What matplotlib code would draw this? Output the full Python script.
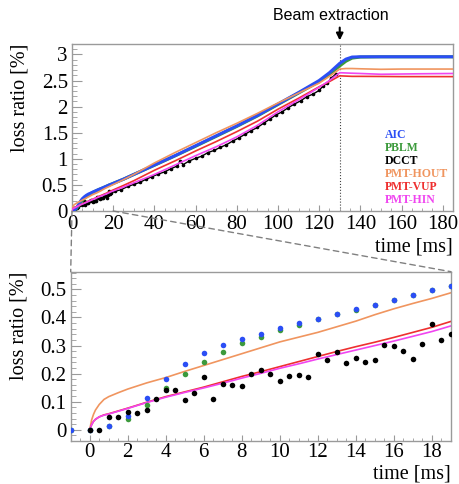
import numpy as np
import matplotlib
matplotlib.use('Agg')
import matplotlib.pyplot as plt
from matplotlib.patches import ConnectionPatch
from matplotlib.ticker import MultipleLocator, FuncFormatter

plt.rcParams['font.family'] = ['Liberation Serif', 'DejaVu Serif']

# ---------------- data: zoomed panel (0-19 ms) ----------------
t_pts_zoom = [-1, 0, 1, 2, 3, 4, 5, 6, 7, 8, 9, 10, 11, 12, 13, 14, 15, 16, 17, 18, 19]
aic_zoom = [0, 0, 0.014, 0.05, 0.113, 0.181, 0.235, 0.272, 0.302, 0.325, 0.342, 0.361,
            0.379, 0.396, 0.413, 0.429, 0.446, 0.463, 0.480, 0.498, 0.513]
pblm_zoom = [0, 0, 0.014, 0.039, 0.089, 0.148, 0.199, 0.243, 0.278, 0.308, 0.332, 0.355,
             0.373, 0.393, 0.412, 0.428, 0.444, 0.462, 0.479, 0.498, 0.513]
t_dcct_zoom = [0, 0.5, 1, 1.5, 2, 2.5, 3, 3.5, 4, 4.5, 5, 5.5, 6, 6.5, 7, 7.5, 8, 8.5, 9, 9.5,
               10, 10.5, 11, 11.5, 12, 12.5, 13, 13.5, 14, 14.5, 15, 15.5, 16, 16.5, 17, 17.5,
               18, 18.5, 19]
dcct_zoom = [0, 0, 0.047, 0.047, 0.062, 0.059, 0.07, 0.111, 0.142, 0.14, 0.107, 0.132, 0.188,
             0.109, 0.164, 0.159, 0.156, 0.199, 0.213, 0.197, 0.173, 0.192, 0.194, 0.188,
             0.269, 0.248, 0.277, 0.237, 0.257, 0.242, 0.25, 0.302, 0.297, 0.282, 0.253,
             0.306, 0.377, 0.318, 0.341]
t_line_zoom = [0, 0.1, 0.2, 0.3, 0.5, 0.75, 1, 1.5, 2, 3, 4, 5, 6, 7, 8, 9, 10, 11, 12, 13,
               14, 15, 16, 17, 18, 19]
hout_zoom = [0, 0.035, 0.055, 0.07, 0.09, 0.108, 0.118, 0.132, 0.145, 0.167, 0.186, 0.208,
             0.229, 0.25, 0.271, 0.292, 0.313, 0.33, 0.347, 0.367, 0.387, 0.41, 0.431, 0.45,
             0.468, 0.488]
vup_zoom = [0, 0.018, 0.03, 0.037, 0.046, 0.053, 0.057, 0.067, 0.077, 0.098, 0.118, 0.135,
            0.152, 0.171, 0.19, 0.207, 0.225, 0.243, 0.261, 0.279, 0.296, 0.312, 0.329, 0.347,
            0.365, 0.386]
hin_zoom = [0, 0.018, 0.03, 0.037, 0.046, 0.052, 0.056, 0.066, 0.076, 0.097, 0.116, 0.133,
            0.149, 0.166, 0.184, 0.201, 0.219, 0.235, 0.252, 0.268, 0.284, 0.3, 0.316, 0.333,
            0.35, 0.37]

# ---------------- data: full panel (after 19 ms) ----------------
t_top = [25, 30, 40, 50, 60, 70, 80, 90, 100, 110, 120, 125, 130, 133, 136, 140, 150, 160, 170, 185]
aic_top = [0.61, 0.70, 0.88, 1.06, 1.25, 1.44, 1.63, 1.83, 2.05, 2.27, 2.50, 2.65, 2.83, 2.91,
           2.95, 2.955, 2.955, 2.955, 2.955, 2.955]
pblm_top = [0.61, 0.70, 0.875, 1.055, 1.24, 1.43, 1.62, 1.82, 2.04, 2.26, 2.48, 2.62, 2.78,
            2.87, 2.93, 2.95, 2.955, 2.955, 2.955, 2.955]
hout_top = [0.60, 0.70, 0.92, 1.12, 1.31, 1.50, 1.68, 1.87, 2.07, 2.26, 2.45, 2.58, 2.72, 2.73,
            2.73, 2.725, 2.715, 2.72, 2.72, 2.72]
vup_top = [0.49, 0.58, 0.78, 0.96, 1.15, 1.33, 1.52, 1.72, 1.95, 2.16, 2.38, 2.48, 2.59, 2.585,
           2.58, 2.58, 2.578, 2.575, 2.575, 2.575]
hin_top = [0.46, 0.54, 0.70, 0.88, 1.06, 1.23, 1.42, 1.64, 1.90, 2.13, 2.37, 2.50, 2.65, 2.645,
           2.64, 2.635, 2.62, 2.625, 2.63, 2.635]
t_dcct_top = [21, 24, 27, 30, 33, 36, 39, 42, 45, 48, 51, 52.5, 54, 57, 60, 63, 66, 69, 72, 75,
              78, 81, 84, 87, 90, 93, 96, 99, 102, 105, 108, 111, 114, 117, 120, 122, 124, 126, 128]
dcct_top = [0.38, 0.41, 0.47, 0.51, 0.55, 0.61, 0.66, 0.71, 0.75, 0.81, 0.86, 0.95, 0.89, 0.96,
            1.01, 1.05, 1.12, 1.16, 1.22, 1.27, 1.34, 1.40, 1.47, 1.54, 1.60, 1.68, 1.76, 1.84,
            1.90, 1.98, 2.05, 2.11, 2.19, 2.24, 2.31, 2.40, 2.45, 2.55, 2.62]

names = ['AIC', 'PBLM', 'DCCT', 'PMT-HOUT', 'PMT-VUP', 'PMT-HIN']
colors = ['#2b4ef5', '#3c9a3c', '#000000', '#f0955f', '#ee3030', '#f045f0']
C_AIC, C_PBLM, C_DCCT, C_HOUT, C_VUP, C_HIN = colors

W, H = 459, 484
fig = plt.figure(figsize=(W / 100, H / 100), dpi=100)
ax1 = fig.add_axes([72 / W, 1 - 211 / H, 381 / W, 167 / H])
ax2 = fig.add_axes([70.7 / W, 1 - 441 / H, 380.3 / W, 169.3 / H])

fmt = FuncFormatter(lambda v, p: f'{v:g}')
frame_c = '#9a9a9a'
for ax in (ax1, ax2):
    for s in ax.spines.values():
        s.set_color(frame_c)
        s.set_linewidth(1.0)
    ax.tick_params(which='both', direction='in', color=frame_c, labelsize=15,
                   top=False, right=False)
    ax.xaxis.set_major_formatter(fmt)
    ax.yaxis.set_major_formatter(fmt)


def comb(a, b):
    return np.concatenate([np.asarray(a, float), np.asarray(b, float)])


# ---------- top panel ----------
ax1.plot(comb(t_dcct_zoom, t_dcct_top), comb(dcct_zoom, dcct_top), color=C_DCCT, lw=1.0,
         marker='o', ms=1.6, zorder=2)
tz = np.asarray(t_pts_zoom)[1:]
ax1.plot(comb(tz, t_top), comb(pblm_zoom[1:], pblm_top), color=C_PBLM, lw=2.2, zorder=3)
ax1.plot(comb(tz, t_top), comb(aic_zoom[1:], aic_top), color=C_AIC, lw=2.2, zorder=3)
ax1.plot(comb(t_line_zoom, t_top), comb(hout_zoom, hout_top), color=C_HOUT, lw=1.2, zorder=4)
ax1.plot(comb(t_line_zoom, t_top), comb(vup_zoom, vup_top), color=C_VUP, lw=1.2, zorder=4)
ax1.plot(comb(t_line_zoom, t_top), comb(hin_zoom, hin_top), color=C_HIN, lw=1.2, zorder=4)
ax1.axvline(130, color='#444444', ls=':', lw=0.8, zorder=1)

ax1.set_xlim(0, 185)
ax1.set_ylim(0, 3.2)
ax1.xaxis.set_major_locator(MultipleLocator(20))
ax1.xaxis.set_minor_locator(MultipleLocator(5))
ax1.yaxis.set_major_locator(MultipleLocator(0.5))
ax1.yaxis.set_minor_locator(MultipleLocator(0.1))
ax1.tick_params(axis='x', which='major', length=4.5, pad=3)
ax1.tick_params(axis='x', which='minor', length=2.5)
ax1.tick_params(axis='y', which='major', length=7, pad=3)
ax1.tick_params(axis='y', which='minor', length=3.5)

ax1.text(-0.136, 1.0, 'loss ratio [%]', transform=ax1.transAxes, rotation=90,
         ha='center', va='top', fontsize=14.5)
ax1.text(1.0, -0.215, 'time [ms]', transform=ax1.transAxes, ha='right', va='center',
         fontsize=14.5)

for i, (n, c) in enumerate(zip(names, colors)):
    ax1.text(0.822, 0.455 - i * 0.0775, n, transform=ax1.transAxes, color=c,
             fontweight='bold', fontsize=8.5, va='center', ha='left')

ax1.annotate('', xy=(130, 1.005), xycoords=('data', 'axes fraction'),
             xytext=(130, 1.115), textcoords=('data', 'axes fraction'),
             arrowprops=dict(arrowstyle='-|>', color='k', lw=1.5, mutation_scale=10),
             annotation_clip=False)
fig.text(331 / W, 1 - 15 / H, 'Beam extraction', ha='center', va='center',
         fontsize=11.5, family='Liberation Sans')

# ---------- bottom panel ----------
ax2.plot(t_line_zoom, hout_zoom, color=C_HOUT, lw=1.2, zorder=2)
ax2.plot(t_line_zoom, vup_zoom, color=C_VUP, lw=1.2, zorder=2)
ax2.plot(t_line_zoom, hin_zoom, color=C_HIN, lw=1.2, zorder=2)
ax2.plot(t_pts_zoom, pblm_zoom, 'o', color=C_PBLM, ms=4, mec='none', zorder=3)
ax2.plot(t_pts_zoom, aic_zoom, 'o', color=C_AIC, ms=4, mec='none', zorder=4)
ax2.plot(t_dcct_zoom, dcct_zoom, 'o', color=C_DCCT, ms=4, mec='none', zorder=5)

ax2.set_xlim(-1, 19)
ax2.set_ylim(-0.04, 0.563)
ax2.xaxis.set_major_locator(MultipleLocator(2))
ax2.xaxis.set_minor_locator(MultipleLocator(0.5))
ax2.yaxis.set_major_locator(MultipleLocator(0.1))
ax2.yaxis.set_minor_locator(MultipleLocator(0.02))
ax2.tick_params(axis='x', which='major', length=4.5, pad=1.5)
ax2.tick_params(axis='x', which='minor', length=2.5)
ax2.tick_params(axis='y', which='major', length=7, pad=3)
ax2.tick_params(axis='y', which='minor', length=3.5)

ax2.text(-0.136, 1.0, 'loss ratio [%]', transform=ax2.transAxes, rotation=90,
         ha='center', va='top', fontsize=14.5)
ax2.text(1.0, -0.195, 'time [ms]', transform=ax2.transAxes, ha='right', va='center',
         fontsize=14.5)

# ---------- zoom connectors ----------
for xa, xb in [(0, 0), (20, 1)]:
    con = ConnectionPatch(xyA=(xa, 0), coordsA=ax1.transData, xyB=(xb, 1),
                          coordsB=ax2.transAxes, ls=(0, (4, 3)), color='#808080', lw=1.0)
    fig.add_artist(con)

fig.savefig('out.png', dpi=100)
